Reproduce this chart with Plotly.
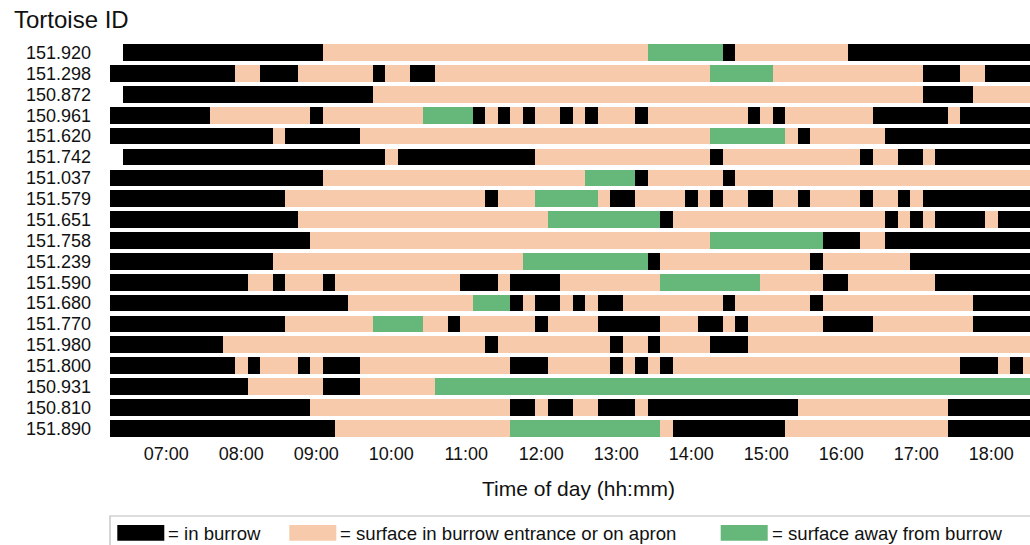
import plotly.graph_objects as go

# ---- data ----
tortoise_ids = ["151.920", "151.298", "150.872", "150.961", "151.620", "151.742",
                "151.037", "151.579", "151.651", "151.758", "151.239", "151.590",
                "151.680", "151.770", "151.980", "151.800", "150.931", "150.810",
                "151.890"]

# each entry: start time, then alternating state code and end time
# B = in burrow, P = surface in burrow entrance or on apron, G = surface away from burrow
activity_log = [
    "06:25 B 09:05 P 13:25 G 14:25 B 14:35 P 16:05 B 18:35",
    "06:15 B 07:55 P 08:15 B 08:45 P 09:45 B 09:55 P 10:15 B 10:35 P 14:15 G 15:05 P 17:05 B 17:35 P 17:55 B 18:35",
    "06:25 B 09:45 P 17:05 B 17:45 P 18:35",
    "06:15 B 07:35 P 08:55 B 09:05 P 10:25 G 11:05 B 11:15 P 11:25 B 11:35 P 11:45 B 11:55 P 12:15 B 12:25 P 12:35 B 12:45 P 13:15 B 13:25 P 14:45 B 14:55 P 15:05 B 15:15 P 16:25 B 17:25 P 17:35 B 18:35",
    "06:15 B 08:25 P 08:35 B 09:35 P 14:15 G 15:15 P 15:25 B 15:35 P 16:35 B 18:35",
    "06:25 B 09:55 P 10:05 B 11:55 P 14:15 B 14:25 P 16:15 B 16:25 P 16:45 B 17:05 P 17:15 B 18:35",
    "06:15 B 09:05 P 12:35 G 13:15 B 13:25 P 14:25 B 14:35 P 18:35",
    "06:15 B 08:35 P 11:15 B 11:25 P 11:55 G 12:45 P 12:55 B 13:15 P 13:55 B 14:05 P 14:15 B 14:25 P 14:45 B 15:05 P 15:25 B 15:35 P 16:15 B 16:25 P 16:45 B 16:55 P 17:05 B 18:35",
    "06:15 B 08:45 P 12:05 G 13:35 B 13:45 P 16:35 B 16:45 P 16:55 B 17:05 P 17:15 B 17:55 P 18:05 B 18:35",
    "06:15 B 08:55 P 14:15 G 15:45 B 16:15 P 16:35 B 18:35",
    "06:15 B 08:25 P 11:45 G 13:25 B 13:35 P 15:35 B 15:45 P 16:55 B 18:35",
    "06:15 B 08:05 P 08:25 B 08:35 P 09:05 B 09:15 P 10:55 B 11:25 P 11:35 B 12:15 P 13:35 G 14:55 P 15:45 B 16:05 P 17:15 B 18:35",
    "06:15 B 09:25 P 11:05 G 11:35 B 11:45 P 11:55 B 12:15 P 12:25 B 12:35 P 12:45 B 13:05 P 14:25 B 14:35 P 15:35 B 15:45 P 17:45 B 18:35",
    "06:15 B 08:35 P 09:45 G 10:25 P 10:45 B 10:55 P 11:55 B 12:05 P 12:45 B 13:35 P 14:05 B 14:25 P 14:35 B 14:45 P 15:45 B 16:25 P 17:45 B 18:35",
    "06:15 B 07:45 P 11:15 B 11:25 P 12:55 B 13:05 P 13:25 B 13:35 P 14:15 B 14:45 P 18:35",
    "06:15 B 07:55 P 08:05 B 08:15 P 08:45 B 08:55 P 09:05 B 09:35 P 11:35 B 12:05 P 12:55 B 13:05 P 13:15 B 13:25 P 13:35 B 13:45 P 17:35 B 18:05 P 18:15 B 18:25 P 18:35",
    "06:15 B 08:05 P 09:05 B 09:35 P 10:35 G 18:35",
    "06:15 B 08:55 P 11:35 B 11:55 P 12:05 B 12:25 P 12:45 B 13:15 P 13:25 B 15:25 P 17:25 B 18:35",
    "06:15 B 09:15 P 11:35 G 13:35 P 13:45 B 15:15 P 17:25 B 18:35",
]

state_codes = ["B", "P", "G"]
state_names = ["= in burrow", "= surface in burrow entrance or on apron",
               "= surface away from burrow"]
state_colors = ["#000000", "#F7CAAC", "#66B77A"]

tick_labels = ["07:00", "08:00", "09:00", "10:00", "11:00", "12:00",
               "13:00", "14:00", "15:00", "16:00", "17:00", "18:00"]

x_title = "Time of day (hh:mm)"
y_title = "Tortoise ID"


def to_min(t):
    h, m = t.split(":")
    return int(h) * 60 + int(m)


# parse segments
segments = {c: {"y": [], "base": [], "x": []} for c in state_codes}
for tid, log in zip(tortoise_ids, activity_log):
    tok = log.split()
    start = to_min(tok[0])
    for i in range(1, len(tok), 2):
        code = tok[i]
        end = to_min(tok[i + 1])
        segments[code]["y"].append(tid)
        segments[code]["base"].append(start)
        segments[code]["x"].append(end - start)
        start = end

FONT = "Liberation Sans, Arial, Helvetica, sans-serif"

fig = go.Figure()
for code, name, col in zip(state_codes, state_names, state_colors):
    s = segments[code]
    fig.add_trace(go.Bar(
        y=s["y"], x=s["x"], base=s["base"], orientation="h",
        marker=dict(color=col, line=dict(width=0)),
        width=0.8, name=name, showlegend=False,
    ))

W, H = 1030, 545
ML, MR, MT, MB = 110, 0, 40, 105
PW = W - ML - MR
PH = H - MT - MB


def px(xp):
    return (xp - ML) / PW


def py(yp):
    return (MT + PH - yp) / PH


tick_vals = [to_min(t) for t in tick_labels]

fig.update_layout(
    width=W, height=H,
    margin=dict(l=ML, r=MR, t=MT, b=MB, pad=0),
    paper_bgcolor="white", plot_bgcolor="white",
    barmode="overlay", bargap=0,
    font=dict(family=FONT, color="#111111"),
    xaxis=dict(
        range=[375, 375 + PW / 1.25],
        tickvals=tick_vals, ticktext=tick_labels,
        showgrid=False, zeroline=False, showline=False, ticks="",
        tickfont=dict(size=18, family=FONT, color="#111111"),
        ticklabelstandoff=1,
    ),
    yaxis=dict(
        type="category", categoryorder="array", categoryarray=tortoise_ids,
        tickmode="array", tickvals=tortoise_ids, ticktext=tortoise_ids,
        range=[18.56, -0.606],
        showgrid=False, zeroline=False, showline=False, ticks="",
        tickfont=dict(size=18, family=FONT, color="#111111"),
        ticklabelstandoff=18,
    ),
)

ann = [
    dict(text=y_title, x=px(12), y=py(19), xanchor="left", yanchor="middle",
         font=dict(size=24, family=FONT, color="#111111")),
    dict(text=x_title, x=px(578), y=py(488), xanchor="center", yanchor="middle",
         font=dict(size=21, family=FONT, color="#111111")),
]
shapes = [
    dict(type="rect", xref="paper", yref="paper", x0=px(110), x1=px(1045),
         y0=py(516), y1=py(560), line=dict(color="#BBBBBB", width=1.2),
         fillcolor="rgba(0,0,0,0)", layer="above"),
]
sw_x = [117.3, 289.3, 720.7]
for sx, name, col in zip(sw_x, state_names, state_colors):
    shapes.append(dict(type="rect", xref="paper", yref="paper",
                       x0=px(sx), x1=px(sx + 47), y0=py(525), y1=py(540.7),
                       fillcolor=col, line=dict(width=0), layer="above"))
    ann.append(dict(text=name, x=px(sx + 49), y=py(533), xanchor="left",
                    yanchor="middle",
                    font=dict(size=18.6, family=FONT, color="#111111")))

for a in ann:
    a.update(xref="paper", yref="paper", showarrow=False)

fig.update_layout(annotations=ann, shapes=shapes)

fig.write_html(
    "out.html",
    config={"displayModeBar": False},
    post_script="document.body.style.margin='0';document.body.style.overflow='hidden';",
)
